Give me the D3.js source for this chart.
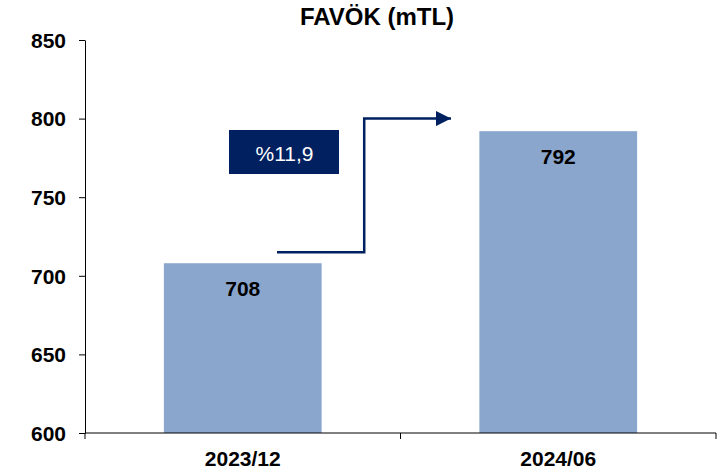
<!DOCTYPE html>
<html>
<head>
<meta charset="utf-8">
<script src="https://cdn.jsdelivr.net/npm/d3@7"></script>
<style>
  body { margin: 0; background: #fff; }
  svg text { font-family: Arial, "Liberation Sans", sans-serif; }
</style>
</head>
<body>
<div id="chart"></div>
<script>
const categories = [`2023/12`, `2024/06`];
const values = [708, 792];
const yTicks = [600, 650, 700, 750, 800, 850];
const title = `FAVÖK (mTL)`;
const growthLabel = `%11,9`;
// arrow levels in data units: start level, top level
const arrowValues = [715, 800];

const width = 720, height = 474;
const margin = { top: 40, right: 4, bottom: 41, left: 85 };

const svg = d3.select(`#chart`).append(`svg`)
    .attr(`width`, width)
    .attr(`height`, height);

const x = d3.scaleBand()
    .domain(categories)
    .range([margin.left, width - margin.right])
    .paddingInner(0.5)
    .paddingOuter(0.25);

const y = d3.scaleLinear()
    .domain([600, 850])
    .range([height - margin.bottom, margin.top]);

svg.append(`text`)
    .attr(`x`, 377)
    .attr(`y`, 25)
    .attr(`text-anchor`, `middle`)
    .attr(`font-size`, 24)
    .attr(`font-weight`, `bold`)
    .text(title);

svg.selectAll(`rect.bar`)
    .data(values)
  .enter().append(`rect`)
    .attr(`class`, `bar`)
    .attr(`x`, (d, i) => x(categories[i]))
    .attr(`y`, (d) => y(d))
    .attr(`width`, x.bandwidth())
    .attr(`height`, (d) => y(600) - y(d))
    .attr(`fill`, `#8aa6cc`);

svg.selectAll(`text.val`)
    .data(values)
  .enter().append(`text`)
    .attr(`class`, `val`)
    .attr(`x`, (d, i) => x(categories[i]) + x.bandwidth() / 2)
    .attr(`y`, (d) => y(d) + 33)
    .attr(`text-anchor`, `middle`)
    .attr(`font-size`, 21)
    .attr(`font-weight`, `bold`)
    .text((d) => d);

// y axis
const yAxis = svg.append(`g`)
    .attr(`transform`, `translate(${margin.left},0)`)
    .call(d3.axisLeft(y).tickValues(yTicks).tickSize(6).tickPadding(13).tickSizeOuter(0));
yAxis.select(`.domain`).attr(`stroke`, `#000`);
yAxis.selectAll(`line`).attr(`stroke`, `#000`);
yAxis.selectAll(`text`)
    .attr(`font-size`, 21)
    .attr(`font-weight`, `bold`)
    .attr(`fill`, `#000`)
    .attr(`dy`, `0.35em`);

// x axis with boundary ticks between categories
const xAxis = svg.append(`g`)
    .attr(`transform`, `translate(0,${y(600)})`);
xAxis.append(`line`)
    .attr(`x1`, margin.left).attr(`x2`, width - margin.right)
    .attr(`stroke`, `#000`);
const step = x.step();
const bounds = [margin.left, margin.left + step, margin.left + 2 * step];
xAxis.selectAll(`line.tk`)
    .data(bounds)
  .enter().append(`line`)
    .attr(`class`, `tk`)
    .attr(`x1`, (d) => d).attr(`x2`, (d) => d)
    .attr(`y1`, 0).attr(`y2`, 6)
    .attr(`stroke`, `#000`);
xAxis.selectAll(`text`)
    .data(categories)
  .enter().append(`text`)
    .attr(`x`, (d) => x(d) + x.bandwidth() / 2)
    .attr(`y`, 33)
    .attr(`text-anchor`, `middle`)
    .attr(`font-size`, 21)
    .attr(`font-weight`, `bold`)
    .text((d) => d);

// growth annotation
const navy = `#002060`;
svg.append(`rect`)
    .attr(`x`, 229).attr(`y`, 130)
    .attr(`width`, 110).attr(`height`, 44)
    .attr(`fill`, navy);
svg.append(`text`)
    .attr(`x`, 284.5).attr(`y`, 161)
    .attr(`text-anchor`, `middle`)
    .attr(`font-size`, 21)
    .attr(`fill`, `#fff`)
    .text(growthLabel);

svg.append(`defs`).append(`marker`)
    .attr(`id`, `arrow`)
    .attr(`viewBox`, `0 0 10 10`)
    .attr(`refX`, 10).attr(`refY`, 5)
    .attr(`markerUnits`, `userSpaceOnUse`)
    .attr(`markerWidth`, 16).attr(`markerHeight`, 15)
    .attr(`orient`, `auto`)
  .append(`path`)
    .attr(`d`, `M0,0L10,5L0,10Z`)
    .attr(`fill`, navy);

const midX = margin.left + step * 0.885;
svg.append(`path`)
    .attr(`d`, `M277,${y(arrowValues[0])}H${midX}V${y(arrowValues[1])}H451`)
    .attr(`fill`, `none`)
    .attr(`stroke`, navy)
    .attr(`stroke-width`, 2.5)
    .attr(`marker-end`, `url(#arrow)`);
</script>
</body>
</html>
